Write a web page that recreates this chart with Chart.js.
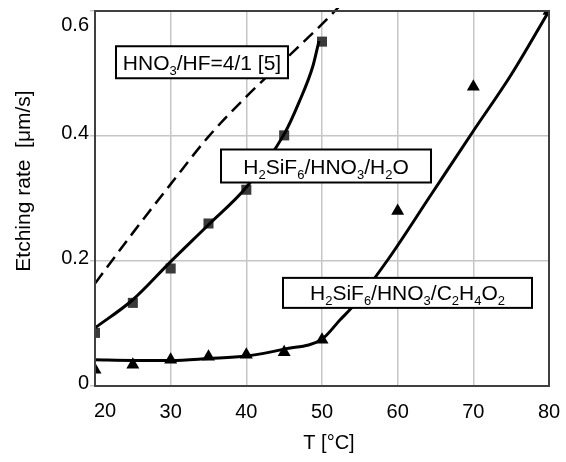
<!DOCTYPE html>
<html><head><meta charset="utf-8">
<script src="https://cdn.jsdelivr.net/npm/chart.js@4"></script>
<style>html,body{margin:0;padding:0;background:#fff}</style>
</head><body>
<canvas id="c" width="566" height="462"></canvas>
<script>
// ---- data ----
const xTickValues = [20, 30, 40, 50, 60, 70, 80];
const xTickLabels = ['20', '30', '40', '50', '60', '70', '80'];
const yTickValues = [0, 0.2, 0.4, 0.6];
const yTickLabels = ['0', '0.2', '0.4', '0.6'];

const squareT    = [20, 25, 30, 35, 40, 45, 50];
const squareRate = [0.085, 0.133, 0.188, 0.26, 0.314, 0.401, 0.551];

const triangleT    = [20, 25, 30, 35, 40, 45, 50, 60, 70, 80];
const triangleRate = [0.026, 0.034, 0.042, 0.047, 0.050, 0.054, 0.074, 0.28, 0.479, 0.60];

const fitH2OT    = [20, 25, 30, 35, 40, 45, 47, 48.8, 49.6];
const fitH2ORate = [0.093, 0.138, 0.199, 0.258, 0.318, 0.403, 0.455, 0.512, 0.552];

const fitAcetT    = [20, 25, 30, 35, 40, 45, 50, 52.4, 53.9, 58.7, 64.3, 70, 75, 80];
const fitAcetRate = [0.042, 0.041, 0.041, 0.044, 0.048, 0.059, 0.075, 0.106, 0.125, 0.202, 0.304, 0.408, 0.498, 0.60];

const refHFT    = [20, 25, 30, 35, 40, 45, 50, 52.5];
const refHFRate = [0.164, 0.245, 0.323, 0.399, 0.463, 0.521, 0.579, 0.61];

const labelTexts = ['HNO_3/HF=4/1 [5]', 'H_2SiF_6/HNO_3/H_2O', 'H_2SiF_6/HNO_3/C_2H_4O_2'];
const labelAnchorT    = [34.14, 50.53, 61.3];
const labelAnchorRate = [0.518, 0.352, 0.149];

const xTitle = 'T [°C]';
const yTitle = 'Etching rate  [μm/s]';

// ---- helpers ----
const FONT = "'Liberation Sans', Arial, sans-serif";
const pts = (xs, ys) => xs.map((x, i) => ({x: x, y: ys[i]}));

const labelBoxSizes = [[172, 32], [210, 33], [249, 30]];

function parseRich(s) {
  const parts = [];
  let buf = '';
  for (let i = 0; i < s.length; i++) {
    if (s[i] === '_' && i + 1 < s.length) {
      if (buf) { parts.push({t: buf, sub: false}); buf = ''; }
      parts.push({t: s[i + 1], sub: true});
      i++;
    } else buf += s[i];
  }
  if (buf) parts.push({t: buf, sub: false});
  return parts;
}

function drawRich(ctx, s, cx, cy) {
  const parts = parseRich(s);
  const main = '21px ' + FONT, sub = '13px ' + FONT;
  let w = 0;
  parts.forEach(p => { ctx.font = p.sub ? sub : main; p.w = ctx.measureText(p.t).width; w += p.w; });
  let x = cx - w / 2;
  const base = cy + 7.5;
  ctx.textAlign = 'left';
  ctx.textBaseline = 'alphabetic';
  ctx.fillStyle = '#000';
  parts.forEach(p => {
    ctx.font = p.sub ? sub : main;
    ctx.fillText(p.t, x, p.sub ? base + 5 : base);
    x += p.w;
  });
}

const decor = {
  id: 'decor',
  afterDatasetsDraw(chart) {
    const ctx = chart.ctx, a = chart.chartArea;
    const xs = chart.scales.x, ys = chart.scales.y;
    ctx.save();
    // frame
    ctx.strokeStyle = '#404040';
    ctx.lineWidth = 2;
    ctx.strokeRect(a.left, a.top, a.right - a.left, a.bottom - a.top);
    // label boxes
    labelTexts.forEach((t, i) => {
      const cx = xs.getPixelForValue(labelAnchorT[i]);
      const cy = ys.getPixelForValue(labelAnchorRate[i]);
      const [bw, bh] = labelBoxSizes[i];
      ctx.fillStyle = '#fff';
      ctx.fillRect(cx - bw / 2, cy - bh / 2, bw, bh);
      ctx.strokeStyle = '#000';
      ctx.lineWidth = 2;
      ctx.strokeRect(cx - bw / 2, cy - bh / 2, bw, bh);
      drawRich(ctx, t, cx, cy);
    });
    ctx.restore();
  },
  afterDraw(chart) {
    const ctx = chart.ctx, a = chart.chartArea;
    const xs = chart.scales.x, ys = chart.scales.y;
    ctx.save();
    ctx.fillStyle = '#000';
    ctx.font = '20px ' + FONT;
    // edge tick labels placed inside like the original
    ctx.textAlign = 'center';
    ctx.textBaseline = 'middle';
    ctx.fillText(xTickLabels[0], xs.getPixelForValue(xTickValues[0]) + 10, a.bottom + 25);
    ctx.textAlign = 'right';
    ctx.fillText(yTickLabels[yTickLabels.length - 1], a.left - 6, ys.getPixelForValue(yTickValues[yTickValues.length - 1]) + 14);
    // axis titles
    ctx.textAlign = 'center';
    ctx.fillText(xTitle, (a.left + a.right) / 2 + 7, 443);
    ctx.translate(24, 181);
    ctx.rotate(-Math.PI / 2);
    ctx.font = '21px ' + FONT;
    ctx.fillText(yTitle, 0, 0);
    ctx.restore();
  }
};

new Chart(document.getElementById('c'), {
  type: 'line',
  data: {
    datasets: [
      {data: pts(refHFT, refHFRate), borderColor: '#000', borderWidth: 2.5, borderDash: [13, 7],
       pointRadius: 0, fill: false, cubicInterpolationMode: 'monotone', clip: {left: 0, top: 3, right: 0, bottom: 0}},
      {data: pts(fitH2OT, fitH2ORate), borderColor: '#000', borderWidth: 3, pointRadius: 0,
       fill: false, cubicInterpolationMode: 'monotone'},
      {data: pts(fitAcetT, fitAcetRate), borderColor: '#000', borderWidth: 3, pointRadius: 0,
       fill: false, cubicInterpolationMode: 'monotone'},
      {data: pts(squareT, squareRate), showLine: false, pointStyle: 'rect', pointRadius: 7.1,
       pointBackgroundColor: '#3a3a3a', pointBorderWidth: 0, borderColor: '#3a3a3a', clip: 0},
      {data: pts(triangleT, triangleRate), showLine: false, pointStyle: 'triangle', pointRadius: 7.5,
       pointBackgroundColor: '#000', pointBorderWidth: 0, borderColor: '#000', clip: 0}
    ]
  },
  options: {
    responsive: false,
    devicePixelRatio: 1,
    animation: false,
    layout: {padding: {top: 11, right: 17, left: 0, bottom: 0}},
    plugins: {legend: {display: false}, tooltip: {enabled: false}},
    scales: {
      x: {
        type: 'linear', min: 20, max: 80,
        afterBuildTicks: s => { s.ticks = xTickValues.map(v => ({value: v})); },
        afterFit: s => { s.height = 76; s.paddingLeft = 0; s.paddingRight = 0; },
        ticks: {
          callback: (v, i) => (i === 0 ? '' : xTickLabels[i]),
          font: {family: FONT, size: 20}, color: '#000', padding: 14, maxRotation: 0, autoSkip: false
        },
        grid: {color: '#c6c6c6', lineWidth: 1.5, drawTicks: false},
        border: {display: false},
        title: {display: false}
      },
      y: {
        type: 'linear', min: 0, max: 0.6,
        afterBuildTicks: s => { s.ticks = yTickValues.map(v => ({value: v})); },
        afterFit: s => { s.width = 95; s.paddingTop = 0; s.paddingBottom = 0; },
        ticks: {
          callback: (v, i) => (i === yTickLabels.length - 1 ? '' : yTickLabels[i]),
          font: {family: FONT, size: 20}, color: '#000', padding: 1, labelOffset: -3, autoSkip: false
        },
        grid: {color: '#c6c6c6', lineWidth: 1.5, tickLength: 5, tickColor: '#c6c6c6'},
        border: {display: false},
        title: {display: false}
      }
    }
  },
  plugins: [decor]
});
</script>
</body></html>
